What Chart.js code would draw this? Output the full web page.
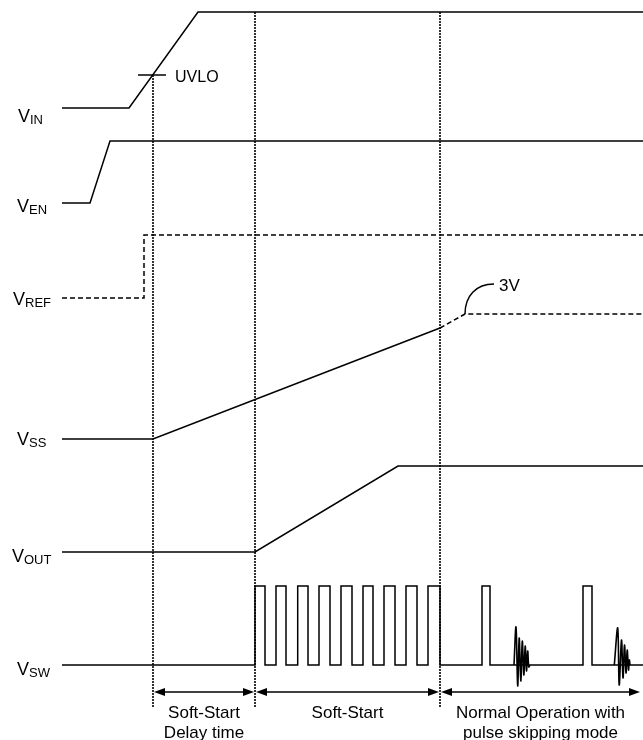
<!DOCTYPE html>
<html>
<head>
<meta charset="utf-8">
<script src="https://cdn.jsdelivr.net/npm/chart.js@4/dist/chart.umd.min.js"></script>
<style>
  html, body { margin: 0; padding: 0; background: #fff; }
  canvas { display: block; }
</style>
</head>
<body>
<canvas id="timing" width="643" height="740"></canvas>
<script>
// time axis runs 0..643, level axis 0..740 (top down)
const vinTime = [62, 129, 198, 643];
const vinLevel = [108, 108, 12, 12];
const venTime = [62, 90, 110, 643];
const venLevel = [203, 203, 141, 141];
const vrefTime = [62, 144, 144, 643];
const vrefLevel = [298, 298, 235, 235];
const vssTime = [62, 153, 440];
const vssLevel = [439, 439, 328];
const vssTailTime = [440, 465, 643];
const vssTailLevel = [328, 314, 314];
const voutTime = [62, 255, 398, 643];
const voutLevel = [552, 552, 466, 466];

const swRise = [255, 276, 297.7, 319, 341, 363, 384, 406, 428, 482, 583];
const swFall = [265, 286, 308, 330, 352, 373, 395, 417, 440, 490, 592];
const swHigh = 586;
const swLow = 665;

const ring1Time = [514, 516, 517.7, 519.2, 520.8, 522.3, 523.8, 525.2, 526.5, 527.7, 528.8, 530];
const ring1Level = [665, 627, 686, 638, 681, 641, 675, 646, 671, 651, 667, 665];
const ring2Time = [614.3, 617.7, 619.2, 621.5, 623, 624.5, 626, 627.2, 628.5, 629.3, 630];
const ring2Level = [665, 628, 685, 640, 678, 645, 673, 650, 670, 660, 665];

const eventTime = [153, 255, 440];
const eventTop = [75, 12, 12];
const eventBottom = 708;
const uvloLevel = 75;

const signalSubs = ['IN', 'EN', 'REF', 'SS', 'OUT', 'SW'];
const phaseLabels = [['Soft-Start', 'Delay time'], ['Soft-Start'], ['Normal Operation with', 'pulse skipping mode']];
const phaseEdges = [153, 255, 440, 641];

// layout for the text bits
const labelX = [18, 17, 13, 17, 12, 17];
const labelBase = [122, 212, 305, 445, 562, 675];
const arrowLevel = 692;
const FONT = '"Liberation Sans", Arial, sans-serif';

function pts(xs, ys) {
  return xs.map((x, i) => ({ x: x, y: ys[i] }));
}

function swPoints() {
  const out = [{ x: vinTime[0], y: swLow }];
  for (let i = 0; i < swRise.length; i++) {
    out.push({ x: swRise[i], y: swLow });
    out.push({ x: swRise[i], y: swHigh });
    out.push({ x: swFall[i], y: swHigh });
    out.push({ x: swFall[i], y: swLow });
  }
  out.push({ x: 643, y: swLow });
  return out;
}

function line(data, extra) {
  return Object.assign({
    data: data,
    showLine: true,
    borderColor: '#000',
    borderWidth: 1.5,
    pointRadius: 0,
    tension: 0,
    fill: false
  }, extra || {});
}

const datasets = [];
// dotted event markers
for (let i = 0; i < eventTime.length; i++) {
  datasets.push(line(pts([eventTime[i], eventTime[i]], [eventTop[i], eventBottom]),
    { borderDash: [2, 1], borderWidth: 1.6 }));
}
datasets.push(line(pts(vinTime, vinLevel)));
datasets.push(line(pts([138, 166], [uvloLevel, uvloLevel])));
datasets.push(line(pts(venTime, venLevel)));
datasets.push(line(pts(vrefTime, vrefLevel), { borderDash: [5, 3] }));
datasets.push(line(pts(vssTime, vssLevel)));
datasets.push(line(pts(vssTailTime, vssTailLevel), { borderDash: [5, 3] }));
datasets.push(line(pts(voutTime, voutLevel)));
datasets.push(line(swPoints()));
datasets.push(line(pts(ring1Time, ring1Level), { borderWidth: 1.6, tension: 0.35 }));
datasets.push(line(pts(ring2Time, ring2Level), { borderWidth: 1.6, tension: 0.35 }));

const annotate = {
  id: 'annotate',
  afterDatasetsDraw(chart) {
    const ctx = chart.ctx;
    const sx = chart.scales.x, sy = chart.scales.y;
    const X = v => sx.getPixelForValue(v);
    const Y = v => sy.getPixelForValue(v);
    ctx.save();
    ctx.fillStyle = '#000';
    ctx.strokeStyle = '#000';

    // signal names V + subscript
    ctx.textBaseline = 'alphabetic';
    ctx.textAlign = 'left';
    for (let i = 0; i < signalSubs.length; i++) {
      ctx.font = '18px ' + FONT;
      ctx.fillText('V', X(labelX[i]), Y(labelBase[i]));
      const w = ctx.measureText('V').width;
      ctx.font = '13px ' + FONT;
      ctx.fillText(signalSubs[i], X(labelX[i]) + w, Y(labelBase[i] + 1.5));
    }

    ctx.font = '16px ' + FONT;
    ctx.fillText('UVLO', X(175), Y(82));
    ctx.font = '17px ' + FONT;
    ctx.fillText('3V', X(499), Y(291));

    // 3V leader
    ctx.lineWidth = 1.5;
    ctx.beginPath();
    ctx.moveTo(X(465), Y(314));
    ctx.bezierCurveTo(X(465), Y(296), X(476), Y(284), X(494), Y(284));
    ctx.stroke();

    // phase arrows
    ctx.lineWidth = 1.5;
    for (let i = 0; i < phaseEdges.length - 1; i++) {
      const a = X(phaseEdges[i]) + 1, b = X(phaseEdges[i + 1]) - 1, y = Y(arrowLevel);
      ctx.beginPath();
      ctx.moveTo(a + 6, y);
      ctx.lineTo(b - 6, y);
      ctx.stroke();
      ctx.beginPath();
      ctx.moveTo(a, y); ctx.lineTo(a + 11, y - 4); ctx.lineTo(a + 11, y + 4); ctx.closePath();
      ctx.fill();
      ctx.beginPath();
      ctx.moveTo(b, y); ctx.lineTo(b - 11, y - 4); ctx.lineTo(b - 11, y + 4); ctx.closePath();
      ctx.fill();
    }

    // phase names
    ctx.font = '17px ' + FONT;
    ctx.textAlign = 'center';
    for (let i = 0; i < phaseLabels.length; i++) {
      const cx = X((phaseEdges[i] + phaseEdges[i + 1]) / 2);
      phaseLabels[i].forEach((t, j) => {
        ctx.fillText(t, cx, Y(718 + j * 20));
      });
    }
    ctx.restore();
  }
};

new Chart(document.getElementById('timing'), {
  type: 'scatter',
  data: { datasets: datasets },
  options: {
    responsive: false,
    animation: false,
    devicePixelRatio: 1,
    layout: { padding: 0 },
    plugins: { legend: { display: false }, tooltip: { enabled: false } },
    scales: {
      x: { type: 'linear', min: 0, max: 643, display: false },
      y: { type: 'linear', min: 0, max: 740, reverse: true, display: false }
    }
  },
  plugins: [annotate]
});
</script>
</body>
</html>
